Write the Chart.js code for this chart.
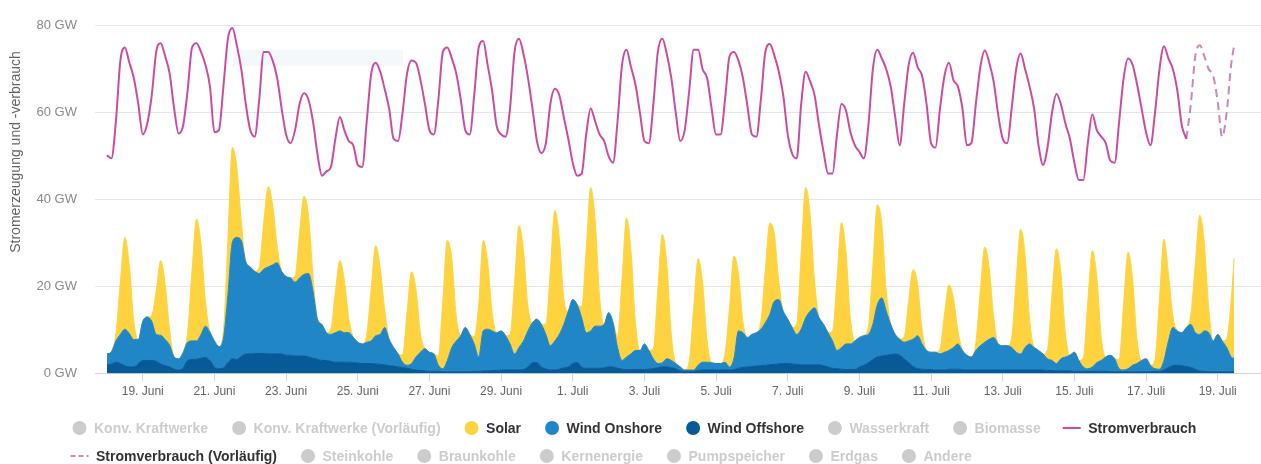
<!DOCTYPE html>
<html>
<head>
<meta charset="utf-8">
<script src="https://cdn.jsdelivr.net/npm/chart.js@4.4.1/dist/chart.umd.min.js"></script>
<style>
  html, body { margin: 0; padding: 0; background: #fff; }
  #chart { display: block; }
</style>
</head>
<body>
<canvas id="chart" width="1261" height="464"></canvas>
<script>
// Werte alle 3 Stunden ab 18. Juni 00:00 (GW), letzter Punkt 19. Juli 11:00
const tickLabels = ['19. Juni', '21. Juni', '23. Juni', '25. Juni', '27. Juni', '29. Juni', '1. Juli', '3. Juli',
  '5. Juli', '7. Juli', '9. Juli', '11. Juli', '13. Juli', '15. Juli', '17. Juli', '19. Juli'];
const tickStunden = [24, 72, 120, 168, 216, 264, 312, 360, 408, 456, 504, 552, 600, 648, 696, 744];

const windOffshore = [
  2, 2.2, 2.6, 2.3, 1.8, 1.5, 1.5, 2.3,
  3, 3, 3, 2.8, 2.2, 1.8, 1.5, 1,
  0.8, 1.2, 3, 3.2, 3.3, 3.5, 3.7, 3,
  1.5, 1.1, 1.3, 2.5, 3.4, 3.2, 4, 4.5,
  4.5, 4.6, 4.6, 4.6, 4.5, 4.5, 4.5, 4.5,
  4.2, 4.2, 4, 4, 4, 3.8, 3.5, 3.3,
  3, 3, 2.8, 2.6, 2.6, 2.6, 2.6, 2.5,
  2.4, 2.3, 2.3, 2.3, 2.2, 2.1, 2, 1.8,
  1.7, 1.5, 1.4, 1.2, 1, 0.8, 0.7, 0.6,
  0.5, 0.5, 0.5, 0.4, 0.4, 0.4, 0.4, 0.4,
  0.4, 0.4, 0.5, 0.5, 0.6, 0.6, 0.7, 0.7,
  0.8, 0.8, 0.8, 0.8, 0.8, 0.9, 1.5, 2.5,
  2.5, 1.5, 1, 0.8, 0.8, 1, 1.3, 1.5,
  2.3, 2.5, 1.5, 1.2, 1.2, 1.2, 1.2, 1.3,
  1.5, 1.5, 1.2, 1, 0.9, 0.9, 0.9, 0.9,
  0.9, 1, 1.1, 1.3, 1.5, 1.5, 1.3, 1.1,
  0.6, 0.5, 0.5, 0.5, 0.7, 0.8, 0.8, 0.8,
  0.8, 0.8, 0.8, 0.8, 0.9, 1.2, 1.4, 1.5,
  1.6, 1.7, 1.8, 1.9, 2, 2.1, 2.2, 2.3,
  2.3, 2.2, 2.1, 2, 2, 2, 2, 2,
  1.8, 1.5, 1.2, 1.1, 1, 0.9, 0.9, 0.9,
  1.5, 1.9, 2.5, 3.2, 3.8, 4, 4.2, 4.3,
  4.5, 4.2, 3.4, 2.5, 1.6, 1.1, 1, 0.9,
  0.9, 0.8, 0.8, 0.8, 1, 1, 1, 0.9,
  0.8, 0.8, 0.8, 0.8, 0.8, 0.8, 0.8, 0.8,
  0.8, 0.8, 0.8, 0.8, 0.8, 0.8, 0.8, 0.8,
  0.8, 0.8, 0.7, 0.7, 0.6, 0.6, 0.6, 0.6,
  0.5, 0.5, 0.5, 0.5, 0.5, 0.5, 0.5, 0.5,
  0.4, 0.4, 0.4, 0.4, 0.4, 0.4, 0.4, 0.4,
  0.4, 0.4, 0.5, 0.5, 0.8, 1.4, 1.8, 1.9,
  1.8, 1.6, 1.4, 1, 0.6, 0.5, 0.4, 0.4,
  0.4, 0.4, 0.4, 0.4, 0.4
];

const windOnshore = [
  2.5, 2.8, 4.9, 6.7, 8.4, 7.7, 6.3, 5.5,
  9, 10, 9, 6.2, 6.6, 6, 5, 2.8,
  2.6, 3.6, 4.2, 4.3, 4.2, 5.5, 7.2, 6.5,
  6, 5.1, 6.7, 15.5, 26.8, 28.1, 26.6, 21.2,
  20, 18.9, 18.4, 19.4, 20, 20.5, 21, 19,
  18.1, 17.8, 17, 18, 18.8, 19.2, 15.5, 9.2,
  8.3, 6.4, 6.2, 6.8, 7.2, 6.8, 6.8, 5.8,
  4.8, 4.5, 4.9, 5.2, 6.5, 6.9, 8.6, 6.1,
  4.3, 3, 1.2, 0.7, 1.3, 3, 4.2, 5.1,
  4.4, 4, 1.4, 0.7, 2.6, 5.6, 7.1, 8.3,
  10.2, 8.6, 6.3, 3.3, 9.2, 9.6, 9.1, 8.7,
  9, 7.9, 6, 3.7, 5.2, 6.6, 8.3, 9.2,
  10, 9.8, 8, 5.6, 6.7, 8, 10, 12.8,
  14.7, 13.3, 11.3, 8.2, 8.6, 9.7, 9.7, 10,
  12.5, 10.2, 4.8, 2, 2.9, 3.6, 4.4, 4.4,
  5.9, 4.3, 2.3, 1, 1, 1.9, 1.7, 1.2,
  0.9, 0.3, 0.3, 0.3, 1.2, 1.8, 1.8, 1.7,
  1.5, 1.5, 1.8, 0.7, 2.6, 8.6, 8, 6.8,
  7.4, 7.7, 8.4, 9.8, 11.6, 14.5, 14.8, 12,
  10.2, 8.4, 6.9, 8.2, 10.8, 12.3, 13.1, 10.8,
  9.5, 7.9, 6.3, 4.2, 5, 5.9, 5.9, 6.6,
  6.8, 6.8, 6.5, 8.1, 12, 13.4, 10.1, 7,
  4.5, 3.7, 3.8, 5, 6.3, 7.6, 5.8, 4.4,
  4, 4.1, 3.7, 4.1, 4.3, 5, 5.8, 4.4,
  3.4, 3, 4.5, 5.6, 6.4, 7.1, 7.5, 6,
  5.6, 5.6, 5.2, 4.1, 3.7, 5.2, 6, 5.2,
  4.5, 3.7, 2.7, 2.3, 1.7, 2.8, 3.2, 3.6,
  4.4, 2.5, 1, 0.6, 1, 2, 2.5, 3.3,
  3.8, 3, 0.7, 0.4, 0.7, 1.5, 1.9, 2.6,
  3, 1.5, 0.6, 0.5, 2.2, 6.1, 8.8, 7.9,
  7.6, 9, 9.9, 8.4, 8.4, 9.3, 9, 7.1,
  8.6, 7.1, 5.6, 3.4, 3.1
];

const solar = [
  0, 0, 1.7, 12.2, 21.1, 15.6, 4.2, 0,
  0, 0, 1.4, 10, 17.2, 12.7, 3.4, 0,
  0, 0, 2.2, 16.2, 28, 20.7, 5.6, 0,
  0, 0, 1.7, 12.6, 21.8, 16.1, 4.4, 0,
  0, 0, 1.5, 10.7, 18.5, 13.7, 3.7, 0,
  0, 0, 1.4, 10.4, 18, 13.3, 3.6, 0,
  0, 0, 1.3, 9.4, 16.2, 12, 3.2, 0,
  0, 0, 1.7, 12, 20.7, 15.3, 4.1, 0,
  0, 0, 1.7, 12.2, 21.1, 15.6, 4.2, 0,
  0, 0, 2.2, 16, 27.6, 20.4, 5.5, 0,
  0, 0, 1.7, 12.1, 20.8, 15.4, 4.2, 0,
  0, 0, 2.2, 16.2, 28, 20.7, 5.6, 0,
  0, 0, 2.4, 17.4, 30, 22.2, 6, 0,
  0, 0, 2.6, 19.1, 33, 24.4, 6.6, 0,
  0, 0, 2.6, 18.6, 32, 23.7, 6.4, 0,
  0, 0, 2.4, 17.1, 29.5, 21.8, 5.9, 0,
  0, 0, 2, 14.2, 24.5, 18.1, 4.9, 0,
  0, 0, 1.9, 13.6, 23.5, 13, 2.5, 0,
  0, 0, 1.7, 12.2, 21, 15.5, 4.2, 0,
  0, 0, 2.4, 17.4, 30, 22.2, 6, 0,
  0, 0, 2.3, 16.6, 28.7, 21.2, 5.7, 0,
  0, 0, 1.8, 13.3, 23, 17, 4.6, 0,
  0, 0, 1.3, 9.3, 16, 11.8, 3.2, 0,
  0, 0, 1.2, 8.8, 15.1, 11.2, 3, 0,
  0, 0, 1.8, 12.7, 21.9, 16.2, 4.4, 0,
  0, 0, 2.3, 16.6, 28.7, 21.2, 5.7, 0,
  0, 0, 2.1, 15.3, 26.4, 19.5, 5.3, 0,
  0, 0, 2.1, 15.5, 26.7, 19.8, 5.3, 0,
  0, 0, 2.1, 15.5, 26.8, 19.8, 5.4, 0,
  0, 0, 2.2, 16.2, 27.9, 15.5, 2.5, 0,
  0, 0, 2.2, 15.9, 27.4, 20.3, 5.5, 0,
  0, 0, 2, 13, 23
];

// Stromverbrauch bis 18. Juli 03:00, danach vorläufige Werte
const verbrauch = [
  50.2, 49.5, 58, 72, 75, 71.5, 68, 62,
  55, 57.5, 64, 74, 76, 73, 69, 61,
  55.2, 57, 65, 75, 76, 74, 71, 66,
  55.5, 56, 66, 77, 79.5, 75.5, 70, 62,
  56, 54.5, 63, 74, 74, 72, 68, 61,
  55, 53, 56, 62, 64.5, 63, 58, 50.5,
  45.5, 46.5, 47.5, 54, 59, 56, 53.5, 52.5,
  48, 47.5, 58, 69, 71.5, 69.5, 65.5, 61,
  54, 53.5, 60, 69, 72, 71.5, 67.5, 62,
  56, 55, 63, 74, 75, 72.5, 69, 63,
  56, 55, 64, 75, 76.5, 71, 65, 57,
  55, 54.5, 61, 74, 77, 73.5, 68, 61,
  53.5, 50.7, 53, 62, 65.5, 64, 59, 54,
  48.5, 45.5, 46, 55, 61, 58, 55, 53.5,
  50, 48.5, 58, 71, 74.5, 70.5, 66.5, 60,
  53.5, 53, 62, 74, 77, 73.5, 68, 60,
  53.5, 56, 65, 74.5, 74.5, 70, 68, 61,
  55, 55, 63, 73, 74, 72, 68, 61.5,
  55, 54.5, 63, 74, 75.8, 73.2, 69.5, 64,
  55, 50.5, 49.5, 62, 69.4, 67.2, 64, 57,
  51, 46, 46, 55, 62, 60.5, 55.5, 52.5,
  51, 49.5, 57, 70, 74.5, 72.5, 70, 66,
  59, 52.5, 62, 71, 73.8, 70.5, 68.5, 62,
  53, 52, 61, 68.5, 71.5, 67.5, 66, 61,
  52.5, 53, 62, 70.5, 74.3, 71.5, 67, 59.5,
  54, 53, 61, 70, 73.6, 70, 66, 61,
  52.5, 48, 52, 60, 64.3, 61.9, 57.5, 54,
  48.5, 44.5, 44.5, 53, 59.6, 56, 54.5, 53,
  49, 48.5, 58, 68, 72.5, 71, 66.5, 61,
  55.5, 52.5, 60, 70, 75.3, 72.5, 70, 65,
  57, 54
];
const verbrauchVorlaeufig = [54, 62, 73, 75.5, 73, 70, 68.5, 62.5, 54.5, 60, 71, 75.5];

// Zeitachse in Stunden
const zeit = [];
for (let i = 0; i < solar.length; i++) zeit.push(i < solar.length - 1 ? i * 3 : 755);
const startVorlaeufig = verbrauch.length - 1;

const FONT = '"Liberation Sans", Arial, Helvetica, sans-serif';
const cSolar = '#fed33f', cOn = '#2186c6', cOff = '#075a97';
const cVerbrauch = '#cc4c9f', cVorl = '#c98ab9', cAus = '#cccccc';

function punkte(arr, offset) {
  return arr.map((v, i) => ({ x: zeit[i + offset], y: v }));
}

const legendeZeilen = [
  [
    { t: 'Konv. Kraftwerke' }, { t: 'Konv. Kraftwerke (Vorläufig)' },
    { t: 'Solar', c: cSolar }, { t: 'Wind Onshore', c: cOn }, { t: 'Wind Offshore', c: cOff },
    { t: 'Wasserkraft' }, { t: 'Biomasse' }, { t: 'Stromverbrauch', c: cVerbrauch, s: 'line' }
  ],
  [
    { t: 'Stromverbrauch (Vorläufig)', c: cVorl, s: 'dash' }, { t: 'Steinkohle' }, { t: 'Braunkohle' },
    { t: 'Kernenergie' }, { t: 'Pumpspeicher' }, { t: 'Erdgas' }, { t: 'Andere' }
  ]
];

const extras = {
  id: 'extras',
  beforeDatasetsDraw(chart) {
    // blasser Kasten im Hintergrund
    const ctx = chart.ctx;
    ctx.save();
    ctx.fillStyle = '#f3f8fb';
    ctx.fillRect(233, 50, 170, 16);
    ctx.restore();
  },
  afterDraw(chart) {
    const ctx = chart.ctx;
    ctx.save();
    // Achsentitel
    ctx.translate(16, 152);
    ctx.rotate(-Math.PI / 2);
    ctx.font = '14px ' + FONT;
    ctx.fillStyle = '#666';
    ctx.textAlign = 'center';
    ctx.textBaseline = 'middle';
    ctx.fillText('Stromerzeugung und -verbrauch', 0, 0);
    ctx.restore();

    // Legende
    ctx.save();
    ctx.font = 'bold 14px ' + FONT;
    ctx.textBaseline = 'middle';
    ctx.textAlign = 'left';
    const zeilenY = [428, 456];
    legendeZeilen.forEach((zeile, z) => {
      let cx = 79.5;
      const y = zeilenY[z];
      zeile.forEach(item => {
        let tx;
        if (item.s === 'line' || item.s === 'dash') {
          ctx.strokeStyle = item.c;
          ctx.lineWidth = 2;
          ctx.setLineDash(item.s === 'dash' ? [5, 3] : []);
          ctx.beginPath();
          ctx.moveTo(cx - 9, y);
          ctx.lineTo(cx + 9, y);
          ctx.stroke();
          ctx.setLineDash([]);
          tx = cx + 16.5;
        } else {
          ctx.fillStyle = item.c || cAus;
          ctx.beginPath();
          ctx.arc(cx, y, 7, 0, Math.PI * 2);
          ctx.fill();
          tx = cx + 14.5;
        }
        ctx.fillStyle = item.c ? '#333333' : cAus;
        ctx.fillText(item.t, tx, y + 1);
        cx = tx + ctx.measureText(item.t).width + 31;
      });
    });
    ctx.restore();
  }
};

const flaeche = (label, data, color, fill) => ({
  label, data, fill, stack: 'erzeugung',
  backgroundColor: color, borderColor: color, borderWidth: 1,
  pointRadius: 0, cubicInterpolationMode: 'monotone'
});

new Chart(document.getElementById('chart'), {
  type: 'line',
  data: {
    datasets: [
      {
        label: 'Stromverbrauch', data: punkte(verbrauch, 0), stack: 'v1', fill: false,
        borderColor: cVerbrauch, borderWidth: 2, pointRadius: 0, cubicInterpolationMode: 'monotone'
      },
      {
        label: 'Stromverbrauch (Vorläufig)', data: punkte(verbrauchVorlaeufig, startVorlaeufig), stack: 'v2', fill: false,
        borderColor: cVorl, borderWidth: 2, borderDash: [8, 5], pointRadius: 0, cubicInterpolationMode: 'monotone'
      },
      flaeche('Wind Offshore', punkte(windOffshore, 0), cOff, 'origin'),
      flaeche('Wind Onshore', punkte(windOnshore, 0), cOn, '-1'),
      flaeche('Solar', punkte(solar, 0), cSolar, '-1')
    ]
  },
  options: {
    responsive: false,
    animation: false,
    events: [],
    layout: { padding: { top: 20, left: 0, right: 0, bottom: 60.5 } },
    plugins: { legend: { display: false }, tooltip: { enabled: false } },
    scales: {
      x: {
        type: 'linear', min: -8, max: 773,
        afterBuildTicks: scale => { scale.ticks = tickStunden.map(v => ({ value: v })); },
        afterFit: scale => { scale.height = 30; },
        ticks: {
          callback: (v, i) => tickLabels[i],
          autoSkip: false, maxRotation: 0, padding: 3,
          color: '#666', font: { family: FONT, size: 12 }
        },
        grid: { drawOnChartArea: false, drawTicks: true, tickLength: 8, color: '#ccd6eb' },
        border: { color: '#ccd6eb', width: 1 }
      },
      y: {
        stacked: true, min: 0, max: 80,
        afterFit: scale => { scale.width = 95; },
        ticks: {
          stepSize: 20, padding: 18,
          callback: v => v + ' GW',
          color: '#8a8a8a', font: { family: FONT, size: 13 }
        },
        grid: { color: '#e6e6e6', drawTicks: false },
        border: { display: false }
      }
    }
  },
  plugins: [extras]
});
</script>
</body>
</html>
